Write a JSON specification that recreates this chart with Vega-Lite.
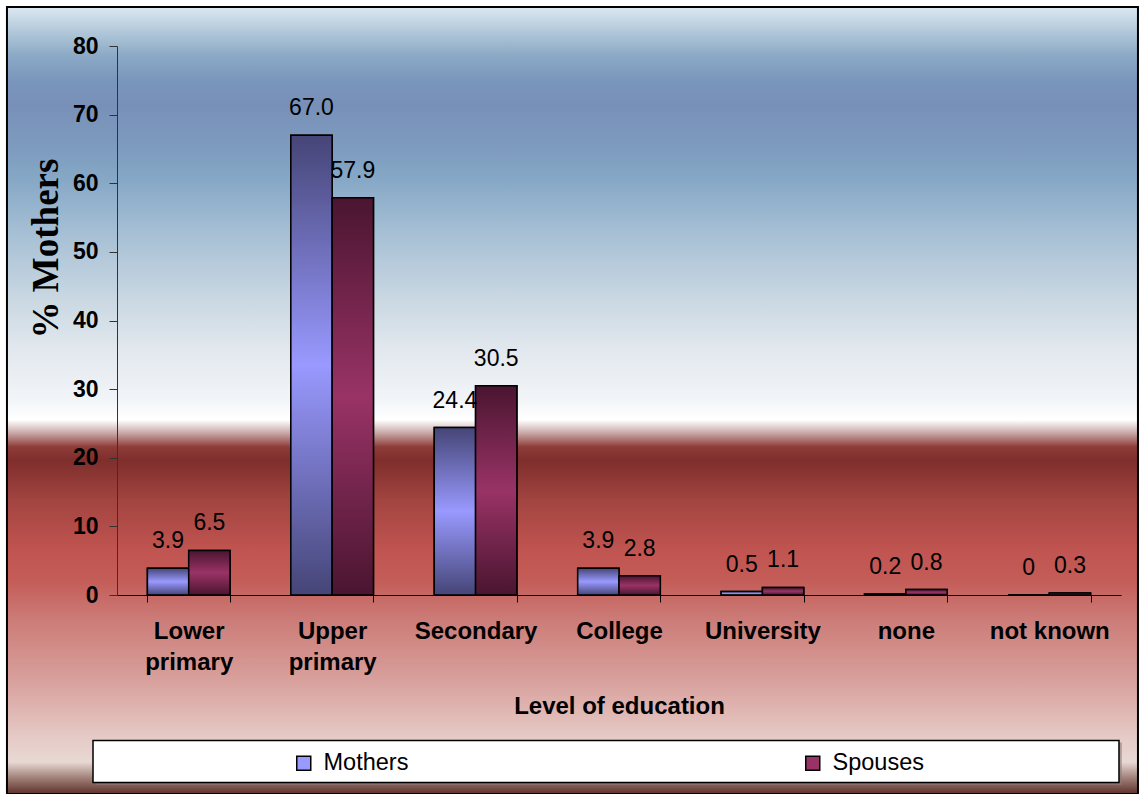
{
  "$schema": "https://vega.github.io/schema/vega-lite/v6.json",
  "autosize": {"type": "none"},
  "width": 1004,
  "height": 549,
  "padding": {"left": 117, "top": 46, "right": 18, "bottom": 199},
  "background": "white",
  "config": {
    "view": {"stroke": null},
    "font": "Liberation Sans"
  },
  "data": {
    "values": [
      {"level": "Lower primary", "series": "Mothers", "value": 3.9},
      {"level": "Lower primary", "series": "Spouses", "value": 6.5},
      {"level": "Upper primary", "series": "Mothers", "value": 67.0},
      {"level": "Upper primary", "series": "Spouses", "value": 57.9},
      {"level": "Secondary", "series": "Mothers", "value": 24.4},
      {"level": "Secondary", "series": "Spouses", "value": 30.5},
      {"level": "College", "series": "Mothers", "value": 3.9},
      {"level": "College", "series": "Spouses", "value": 2.8},
      {"level": "University", "series": "Mothers", "value": 0.5},
      {"level": "University", "series": "Spouses", "value": 1.1},
      {"level": "none", "series": "Mothers", "value": 0.2},
      {"level": "none", "series": "Spouses", "value": 0.8},
      {"level": "not known", "series": "Mothers", "value": 0},
      {"level": "not known", "series": "Spouses", "value": 0.3}
    ]
  },
  "resolve": {
    "scale": {"x": "independent", "y": "independent"},
    "axis": {"x": "independent", "y": "independent"}
  },
  "layer": [
    {
      "data": {"values": [{}]},
      "mark": {
        "type": "rect",
        "clip": false,
        "stroke": "black",
        "strokeWidth": 2,
        "fill": {
          "gradient": "linear",
          "x1": 0, "y1": 0, "x2": 0, "y2": 1,
          "stops": [
            {"offset": 0, "color": "#dce8f2"},
            {"offset": 0.0292, "color": "#b4cadb"},
            {"offset": 0.061, "color": "#8caac6"},
            {"offset": 0.0928, "color": "#7a96bc"},
            {"offset": 0.1245, "color": "#7890b8"},
            {"offset": 0.1817, "color": "#7e9cbf"},
            {"offset": 0.2198, "color": "#86a8c6"},
            {"offset": 0.2834, "color": "#a4bed4"},
            {"offset": 0.3723, "color": "#cad8e2"},
            {"offset": 0.4358, "color": "#e2e8ee"},
            {"offset": 0.4994, "color": "#f2f5f8"},
            {"offset": 0.5248, "color": "#ffffff"},
            {"offset": 0.5413, "color": "#c8a8a6"},
            {"offset": 0.5591, "color": "#8e3c38"},
            {"offset": 0.5756, "color": "#7e2e2c"},
            {"offset": 0.6264, "color": "#a24440"},
            {"offset": 0.69, "color": "#c05450"},
            {"offset": 0.7281, "color": "#c45c58"},
            {"offset": 0.7789, "color": "#cc7c78"},
            {"offset": 0.8551, "color": "#d8a09c"},
            {"offset": 0.9314, "color": "#e6ccc8"},
            {"offset": 0.9593, "color": "#e8d8d4"},
            {"offset": 0.9797, "color": "#a08078"},
            {"offset": 1, "color": "#5e302a"}
          ]
        }
      },
      "encoding": {
        "x": {"datum": -0.1096, "type": "quantitative", "scale": {"domain": [0, 1], "nice": false, "zero": false}, "axis": null},
        "x2": {"datum": 1.0169},
        "y": {"datum": 85.68, "type": "quantitative", "scale": {"domain": [0, 80], "nice": false, "zero": false}, "axis": null},
        "y2": {"datum": -29.0}
      }
    },
    {
      "data": {"values": [{}]},
      "mark": {"type": "rect", "clip": false, "fill": "#8a7a78", "opacity": 0.6},
      "encoding": {
        "x": {"datum": -0.021, "type": "quantitative", "scale": {"domain": [0, 1], "nice": false, "zero": false}, "axis": null},
        "x2": {"datum": 1.0008},
        "y": {"datum": -21.5, "type": "quantitative", "scale": {"domain": [0, 80], "nice": false, "zero": false}, "axis": null},
        "y2": {"datum": -27.7}
      }
    },
    {
      "data": {"values": [{}]},
      "mark": {"type": "rect", "clip": false, "fill": "white", "stroke": "black", "strokeWidth": 1.5},
      "encoding": {
        "x": {"datum": -0.0239, "type": "quantitative", "scale": {"domain": [0, 1], "nice": false, "zero": false}, "axis": null},
        "x2": {"datum": 0.998},
        "y": {"datum": -21.2, "type": "quantitative", "scale": {"domain": [0, 80], "nice": false, "zero": false}, "axis": null},
        "y2": {"datum": -27.32}
      }
    },
    {
      "encoding": {
        "x": {
          "field": "level", "type": "nominal", "sort": null,
          "scale": {"paddingInner": 0.424, "paddingOuter": 0.212},
          "axis": {
            "title": "Level of education",
            "titleFont": "Liberation Sans", "titleFontSize": 24, "titleFontWeight": "bold", "titleColor": "black",
            "titleY": 118, "titleBaseline": "alphabetic",
            "labelAngle": 0, "labelFont": "Liberation Sans", "labelFontSize": 24, "labelFontWeight": "bold", "labelColor": "black",
            "labelPadding": 17, "labelLineHeight": 31, "labelLimit": 0,
            "labelExpr": "datum.label == 'Lower primary' ? ['Lower', 'primary'] : datum.label == 'Upper primary' ? ['Upper', 'primary'] : datum.label",
            "tickBand": "extent", "tickSize": 7, "tickColor": "black", "domainColor": "black", "zindex": 1
          }
        },
        "xOffset": {"field": "series", "type": "nominal", "scale": {"paddingInner": 0, "paddingOuter": 0}},
        "y": {
          "field": "value", "type": "quantitative",
          "scale": {"domain": [0, 80], "nice": false},
          "axis": {
            "values": [0, 10, 20, 30, 40, 50, 60, 70, 80],
            "grid": false,
            "labelFont": "Liberation Sans", "labelFontSize": 23, "labelFontWeight": "bold", "labelColor": "black",
            "labelPadding": 11, "tickSize": 8, "tickColor": "#333333", "domainColor": "#333333",
            "title": "% Mothers",
            "titleFont": "Liberation Serif", "titleFontSize": 37, "titleFontWeight": "bold", "titleColor": "black",
            "titleX": -60, "titleY": 202, "titleAngle": -90, "titleAlign": "center", "titleBaseline": "alphabetic",
            "zindex": 1
          }
        }
      },
      "layer": [
        {
          "mark": {"type": "bar", "stroke": "black", "strokeWidth": 1.5},
          "encoding": {
            "color": {
              "field": "series", "type": "nominal",
              "scale": {"domain": ["Mothers", "Spouses"], "range": ["#9999ff", "#993366"]},
              "legend": {
                "title": null, "orient": "none", "legendX": 175, "legendY": 705,
                "direction": "horizontal", "padding": 0, "columnPadding": 392,
                "symbolType": "square", "symbolSize": 196, "symbolStrokeColor": "black", "symbolStrokeWidth": 1.5,
                "labelFont": "Liberation Sans", "labelFontSize": 23.5, "labelColor": "black", "labelOffset": 8,
                "zindex": 1
              }
            }
          }
        },
        {
          "mark": {"type": "bar", "stroke": "black", "strokeWidth": 1.5},
          "encoding": {
            "fill": {
              "condition": {
                "test": "datum.series === 'Mothers'",
                "value": {"gradient": "linear", "x1": 0, "y1": 0, "x2": 0, "y2": 1,
                  "stops": [{"offset": 0, "color": "#454577"}, {"offset": 0.5, "color": "#9999ff"}, {"offset": 1, "color": "#454577"}]}
              },
              "value": {"gradient": "linear", "x1": 0, "y1": 0, "x2": 0, "y2": 1,
                "stops": [{"offset": 0, "color": "#4a1530"}, {"offset": 0.5, "color": "#993366"}, {"offset": 1, "color": "#4a1530"}]}
            }
          }
        },
        {
          "mark": {"type": "text", "baseline": "alphabetic", "dy": -20, "fontSize": 23, "font": "Liberation Sans", "color": "black"},
          "encoding": {
            "text": {
              "condition": {"test": "datum.value === 0", "value": "0"},
              "field": "value", "type": "quantitative", "format": ".1f"
            }
          }
        }
      ]
    }
  ]
}
